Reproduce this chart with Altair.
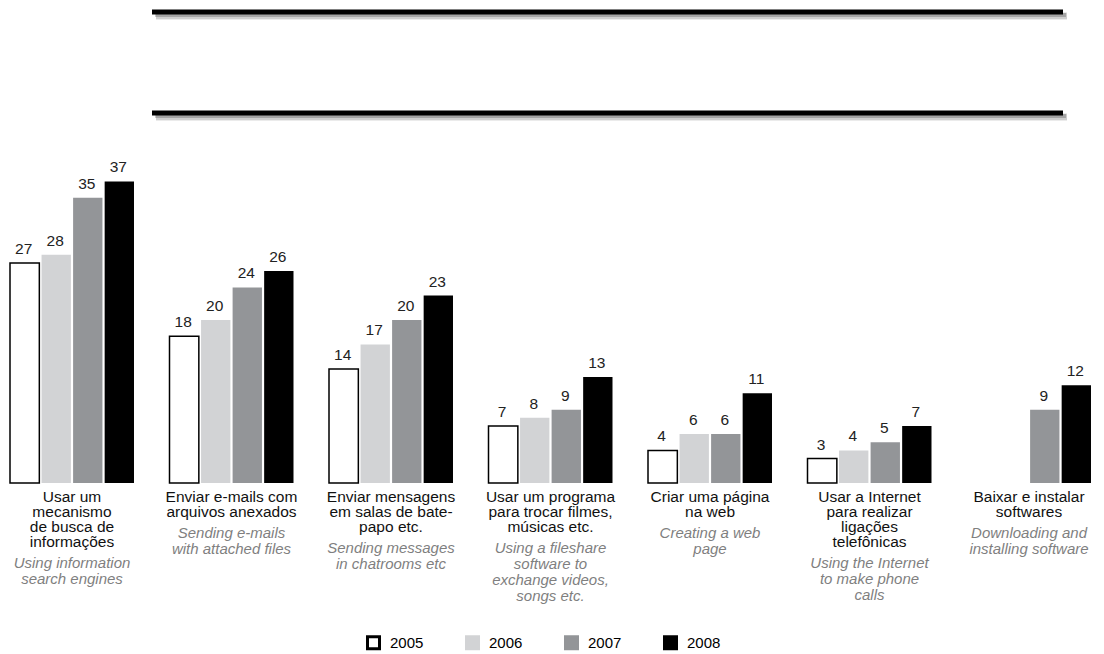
import altair as alt
import pandas as pd

# ---- data -----------------------------------------------------------------
years = ["2005", "2006", "2007", "2008"]
activity_ids = ["a1", "a2", "a3", "a4", "a5", "a6", "a7"]

activities_pt = [
    "Usar um\nmecanismo\nde busca de\ninformações",
    "Enviar e-mails com\narquivos anexados",
    "Enviar mensagens\nem salas de bate-\npapo etc.",
    "Usar um programa\npara trocar filmes,\nmúsicas etc.",
    "Criar uma página\nna web",
    "Usar a Internet\npara realizar\nligações\ntelefônicas",
    "Baixar e instalar\nsoftwares",
]
activities_en = [
    "Using information\nsearch engines",
    "Sending e-mails\nwith attached files",
    "Sending messages\nin chatrooms etc",
    "Using a fileshare\nsoftware to\nexchange videos,\nsongs etc.",
    "Creating a web\npage",
    "Using the Internet\nto make phone\ncalls",
    "Downloading and\ninstalling software",
]

pct_2005 = [27, 18, 14, 7, 4, 3, None]
pct_2006 = [28, 20, 17, 8, 6, 4, None]
pct_2007 = [35, 24, 20, 9, 6, 5, 9]
pct_2008 = [37, 26, 23, 13, 11, 7, 12]

fills = ["#ffffff", "#d2d3d5", "#939598", "#000000"]
strokes = ["#000000", "#d2d3d5", "#939598", "#000000"]

# ---- tables ---------------------------------------------------------------
rows = []
for yr, series in zip(years, [pct_2005, pct_2006, pct_2007, pct_2008]):
    for aid, v in zip(activity_ids, series):
        if v is not None:
            rows.append({"act": aid, "year": yr, "pct": v})
bars_df = pd.DataFrame(rows)

labels_df = pd.DataFrame({
    "act": activity_ids,
    "pt": activities_pt,
    "en": activities_en,
    "pt_lines": [s.count("\n") + 1 for s in activities_pt],
})

# ---- layout ---------------------------------------------------------------
PLOT_W = 1101
PLOT_H = 483          # baseline of the bars
PX_PER_UNIT = 8.15
FONT = "Liberation Sans"
PT_TOP = 490
PT_LINE = 15
EN_LINE = 16

x_enc = alt.X(
    "act:N",
    sort=activity_ids,
    scale=alt.Scale(domain=activity_ids, paddingInner=0.2226, paddingOuter=0.0627),
    axis=None,
)
xo_enc = alt.XOffset(
    "year:N",
    scale=alt.Scale(domain=years, paddingInner=0.07, paddingOuter=0.0),
)
y_scale = alt.Scale(domain=[0, PLOT_H / PX_PER_UNIT], nice=False, zero=True)

legend = alt.Legend(
    title=None,
    orient="none",
    legendX=366,
    legendY=635,
    direction="horizontal",
    symbolType="square",
    symbolSize=144,
    symbolStrokeWidth=3,
    symbolOpacity=1,
    labelFont=FONT,
    labelFontSize=15,
    labelColor="#000000",
    labelOffset=9,
    columnPadding=36,
)

base = alt.Chart(bars_df)

bars = base.mark_bar(opacity=1).encode(
    x=x_enc,
    xOffset=xo_enc,
    y=alt.Y("pct:Q", scale=y_scale, axis=None),
    y2=alt.datum(0),
    fill=alt.Fill("year:N", scale=alt.Scale(domain=years, range=fills), legend=legend),
    stroke=alt.Stroke("year:N", scale=alt.Scale(domain=years, range=strokes), legend=legend),
    strokeWidth=alt.condition("datum.year == '2005'", alt.value(1.5), alt.value(0)),
)

values = base.mark_text(
    font=FONT, fontSize=15.5, color="#222222", baseline="bottom", dy=-6, dx=-1
).encode(
    x=x_enc,
    xOffset=xo_enc,
    y=alt.Y("pct:Q", scale=y_scale, axis=None),
    text=alt.Text("pct:Q"),
)

labels_base = alt.Chart(labels_df)

pt_text = labels_base.mark_text(
    font=FONT, fontSize=15.5, color="#111111", baseline="top", align="center",
    lineBreak="\n", lineHeight=PT_LINE,
).encode(
    x=x_enc,
    y=alt.value(PT_TOP),
    text="pt:N",
)

en_text = labels_base.transform_calculate(
    ty=f"{PT_TOP} + datum.pt_lines * {PT_LINE} + 6"
).mark_text(
    font=FONT, fontSize=15, fontStyle="italic", color="#7f7f7f", baseline="top",
    align="center", lineBreak="\n", lineHeight=EN_LINE,
).encode(
    x=x_enc,
    y=alt.Y("ty:Q", scale=None, axis=None),
    text="en:N",
)

# decorative double rule at the top, with a soft drop shadow
def top_rule(y, color, width, dx=0, dy=0, opacity=1.0):
    return alt.Chart(labels_df.head(1)).mark_rule(
        color=color, strokeWidth=width, opacity=opacity, strokeCap="butt"
    ).encode(
        x=alt.value(152 + dx), x2=alt.value(1063 + dx),
        y=alt.value(y + dy),
    )

decor = []
for yy in (12, 113):
    decor += [
        top_rule(yy, "#000000", 8, dx=4, dy=4, opacity=0.08),
        top_rule(yy, "#000000", 6, dx=4, dy=4, opacity=0.12),
        top_rule(yy, "#000000", 4, dx=3, dy=3, opacity=0.2),
        top_rule(yy, "#000000", 5),
    ]

chart = alt.layer(*decor, bars, values, pt_text, en_text).properties(
    width=PLOT_W,
    height=PLOT_H,
    padding={"left": 0, "top": 0, "right": 3, "bottom": 171},
    autosize=alt.AutoSizeParams(type="none"),
    background="#ffffff",
).configure_view(stroke=None).configure_legend(
    symbolStrokeWidth=3
)

chart.save("out.html", embed_options={"renderer": "svg", "actions": False})
